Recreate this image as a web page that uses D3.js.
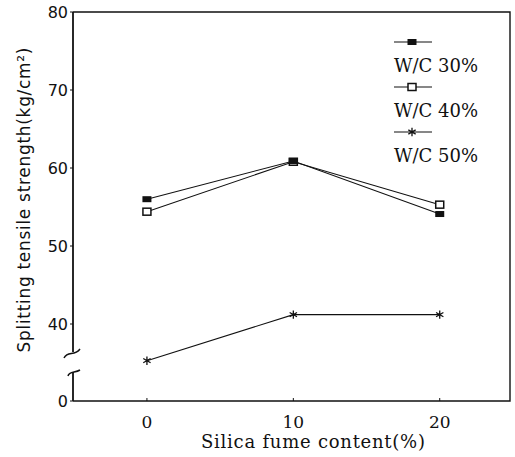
<!DOCTYPE html>
<html>
<head>
<meta charset="utf-8">
<script src="https://cdn.jsdelivr.net/npm/d3@7"></script>
<style>
  body { margin: 0; background: #fff; }
  svg { display: block; }
</style>
</head>
<body>
<svg width="515" height="457"></svg>
<script>
// values
const contents = [0, 10, 20];
const wc30 = [56.0, 60.9, 54.1];
const wc40 = [54.4, 60.8, 55.3];
const wc50 = [35.3, 41.2, 41.2];
const seriesNames = ["W/C 30%", "W/C 40%", "W/C 50%"];
const yTicks = [0, 40, 50, 60, 70, 80];
const xTicks = [0, 10, 20];

const svg = d3.select("svg");
const plotLeft = 73, plotRight = 510, plotTop = 12, plotBottom = 401;

const x = d3.scaleLinear().domain([-5.05, 24.8]).range([plotLeft, plotRight]);
// broken axis: 0 sits at the bottom, 34..80 is linear above the break
const y = d3.scaleLinear().domain([0, 34, 80]).range([plotBottom, 370.8, plotTop]);

const series = [
  { name: seriesNames[0], values: wc30, marker: "filled" },
  { name: seriesNames[1], values: wc40, marker: "open" },
  { name: seriesNames[2], values: wc50, marker: "star" }
];

const ink = "#111";

// frame: top, right, bottom
svg.append("path")
  .attr("d", `M${plotLeft},${plotTop}H${plotRight}V${plotBottom}H${plotLeft}`)
  .attr("fill", "none").attr("stroke", ink).attr("stroke-width", 1.4);

// left axis with break
const breakTop = 352, breakBot = 372;
svg.append("line")
  .attr("x1", plotLeft).attr("x2", plotLeft).attr("y1", plotTop).attr("y2", breakTop)
  .attr("stroke", ink).attr("stroke-width", 1.8);
svg.append("path")
  .attr("d", `M${plotLeft - 9},${breakTop + 6} C${plotLeft - 5},${breakTop - 2} ${plotLeft + 1},${breakTop + 5} ${plotLeft + 7},${breakTop - 3}`)
  .attr("fill", "none").attr("stroke", ink).attr("stroke-width", 1.5);
svg.append("line")
  .attr("x1", plotLeft).attr("x2", plotLeft).attr("y1", breakBot).attr("y2", plotBottom)
  .attr("stroke", ink).attr("stroke-width", 1.8);
svg.append("path")
  .attr("d", `M${plotLeft - 5},${breakBot + 4} C${plotLeft - 4},${breakBot - 1} ${plotLeft + 2},${breakBot + 1} ${plotLeft + 7},${breakBot - 2}`)
  .attr("fill", "none").attr("stroke", ink).attr("stroke-width", 1.5);

// y ticks and labels
const yt = svg.append("g");
yTicks.forEach(t => {
  yt.append("line")
    .attr("x1", plotLeft - 3).attr("x2", plotLeft).attr("y1", y(t)).attr("y2", y(t))
    .attr("stroke", ink).attr("stroke-width", 1);
  yt.append("text")
    .attr("x", plotLeft - 5).attr("y", y(t) + 5.5)
    .attr("text-anchor", "end")
    .attr("font-family", "DejaVu Sans")
    .attr("font-size", 16)
    .attr("fill", ink)
    .text(t);
});

// x ticks and labels
const xt = svg.append("g");
xTicks.forEach(t => {
  xt.append("line")
    .attr("x1", x(t)).attr("x2", x(t)).attr("y1", plotBottom).attr("y2", plotBottom - 3)
    .attr("stroke", ink).attr("stroke-width", 1);
  xt.append("text")
    .attr("x", x(t)).attr("y", 428)
    .attr("text-anchor", "middle")
    .attr("font-family", "DejaVu Serif")
    .attr("font-size", 17)
    .attr("fill", ink)
    .text(t);
});

// axis titles
svg.append("text")
  .attr("x", 313).attr("y", 448)
  .attr("text-anchor", "middle")
  .attr("font-family", "DejaVu Serif")
  .attr("font-size", 18)
  .attr("textLength", 224)
  .attr("lengthAdjust", "spacing")
  .attr("fill", ink)
  .text("Silica fume content(%)");

svg.append("text")
  .attr("transform", "translate(30,200) rotate(-90)")
  .attr("text-anchor", "middle")
  .attr("font-family", "DejaVu Sans")
  .attr("font-size", 17)
  .attr("textLength", 305)
  .attr("lengthAdjust", "spacing")
  .attr("fill", ink)
  .text("Splitting tensile strength(kg/cm²)");

// markers
function drawMarker(g, kind, cx, cy) {
  if (kind === "filled") {
    g.append("rect")
      .attr("x", cx - 4.5).attr("y", cy - 3).attr("width", 9).attr("height", 6)
      .attr("fill", ink);
  } else if (kind === "open") {
    g.append("rect")
      .attr("x", cx - 4).attr("y", cy - 3.5).attr("width", 8).attr("height", 7)
      .attr("fill", "#fff").attr("stroke", ink).attr("stroke-width", 1.5);
  } else {
    g.append("path")
      .attr("transform", `translate(${cx},${cy})`)
      .attr("d", d3.symbol(d3.symbolAsterisk, 50)())
      .attr("fill", "none").attr("stroke", ink).attr("stroke-width", 1.3);
  }
}

const line = d3.line()
  .x((d, i) => x(contents[i]))
  .y(d => y(d));

const plot = svg.append("g");
series.forEach(s => {
  plot.append("path")
    .attr("d", line(s.values))
    .attr("fill", "none").attr("stroke", ink).attr("stroke-width", 1.1);
});
// open squares first so the filled ones sit on top where they meet
series.slice().reverse().forEach(s => {
  s.values.forEach((v, i) => drawMarker(plot, s.marker, x(contents[i]), y(v)));
});

// legend
const legend = svg.append("g").attr("transform", "translate(394,42)");
series.forEach((s, i) => {
  const row = legend.append("g").attr("transform", `translate(0,${i * 45})`);
  row.append("line")
    .attr("x1", 0).attr("x2", 38).attr("y1", 0).attr("y2", 0)
    .attr("stroke", ink).attr("stroke-width", 1.1);
  drawMarker(row, s.marker, 18, 0);
  row.append("text")
    .attr("x", 0).attr("y", 30)
    .attr("font-family", "DejaVu Serif")
    .attr("font-size", 18)
    .attr("fill", ink)
    .text(s.name);
});
</script>
</body>
</html>
